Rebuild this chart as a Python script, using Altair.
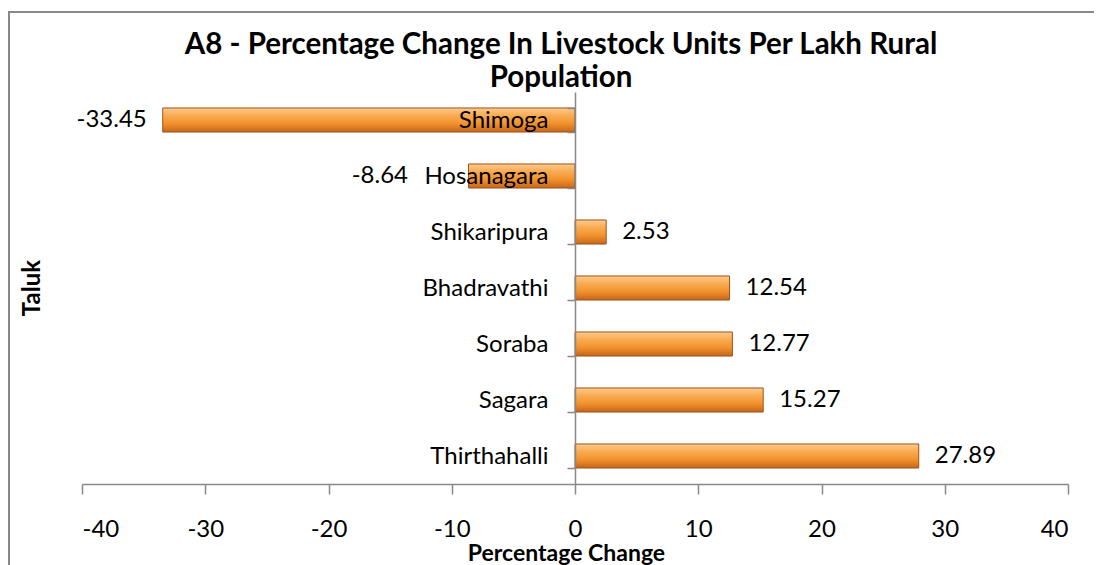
import altair as alt
import pandas as pd

taluks = ["Shimoga", "Hosanagara", "Shikaripura", "Bhadravathi", "Soraba", "Sagara", "Thirthahalli"]
changes = [-33.45, -8.64, 2.53, 12.54, 12.77, 15.27, 27.89]
x_ticks = [-40, -30, -20, -10, 0, 10, 20, 30, 40]
title_lines = ["A8 - Percentage Change In Livestock Units Per Lakh Rural", "Population"]
y_title = ["Taluk"]
x_title = "Percentage Change"

df = pd.DataFrame({"Taluk": taluks, "Change": changes})

W, H = 986, 392
FONT = "Lato"
GRAY = "#888888"
MINUS = "\u2212"

grad = alt.Gradient(
    gradient="linear",
    stops=[
        alt.GradientStop(color="#FCCB8E", offset=0),
        alt.GradientStop(color="#F9AC55", offset=0.3),
        alt.GradientStop(color="#F2922C", offset=0.65),
        alt.GradientStop(color="#C4661C", offset=1),
    ],
    x1=0, x2=0, y1=0, y2=1,
)

y_enc = alt.Y(
    "Taluk:N", sort=None,
    scale=alt.Scale(paddingInner=0.57, paddingOuter=0.285),
    axis=alt.Axis(
        title=None, orient="left", offset=-493, tickBand="extent", tickSize=8,
        tickColor=GRAY, domainColor=GRAY, domainWidth=1.5, tickWidth=1.5,
        labelFontSize=24, labelFont=FONT, labelColor="black", labelPadding=19, zindex=1,
    ),
)
x_enc = alt.X(
    "Change:Q",
    scale=alt.Scale(domain=[-40, 40], nice=False, zero=False),
    axis=alt.Axis(
        values=x_ticks, title=x_title, grid=False, tickSize=10,
        tickColor=GRAY, domainColor=GRAY, domainWidth=1.5, tickWidth=1.5,
        labelFontSize=24, labelFont=FONT, labelColor="black", labelPadding=23,
        labelExpr=f"replace(datum.label, '{MINUS}', '-')",
        titleFont=FONT, titleFontSize=23, titleFontWeight="bold", titleColor="black",
        titlePadding=1, titleX=484, titleAlign="center",
    ),
)

bars = alt.Chart(df).mark_bar(
    color=grad, stroke="#A0531A", strokeWidth=1
).encode(x=x_enc, y=y_enc)

base_txt = alt.Chart(df).transform_calculate(
    label=f"replace(format(datum.Change, '.2f'), '{MINUS}', '-')",
    pos="datum.Change < 0 ? min(datum.Change, -12.25) : datum.Change",
)
pos_txt = base_txt.transform_filter("datum.Change >= 0").mark_text(
    align="left", dx=16, fontSize=24, font=FONT, color="black"
).encode(x=alt.X("pos:Q"), y=alt.Y("Taluk:N", sort=None), text="label:N")
neg_txt = base_txt.transform_filter("datum.Change < 0").mark_text(
    align="right", dx=-16, fontSize=24, font=FONT, color="black"
).encode(x=alt.X("pos:Q"), y=alt.Y("Taluk:N", sort=None), text="label:N")

ytitle = alt.Chart(pd.DataFrame({"t": y_title})).mark_text(
    angle=270, fontSize=24, font=FONT, fontWeight="bold", color="black"
).encode(text="t:N", x=alt.value(-49), y=alt.value(H / 2))

main_title = alt.Chart(pd.DataFrame({"t": [0]})).mark_text(
    fontSize=29.5, font=FONT, fontWeight="bold", color="black",
    baseline="middle", lineHeight=33, align="center",
).encode(text=alt.value(title_lines), x=alt.value(W / 2 - 14), y=alt.value(-47))

border = alt.Chart(pd.DataFrame({"b": [1]})).mark_rect(
    fillOpacity=0, stroke=GRAY, strokeWidth=2
).encode(
    x=alt.value(-73), x2=alt.value(W + 90), y=alt.value(-80), y2=alt.value(H + 120)
)

chart = alt.layer(border, bars, pos_txt, neg_txt, ytitle, main_title).properties(
    width=W, height=H,
    autosize=alt.AutoSizeParams(type="none"),
    padding={"left": 74, "top": 84, "right": 26, "bottom": 81},
).configure_view(stroke=None)

chart.save("out.html", embed_options={"renderer": "svg", "actions": False})
